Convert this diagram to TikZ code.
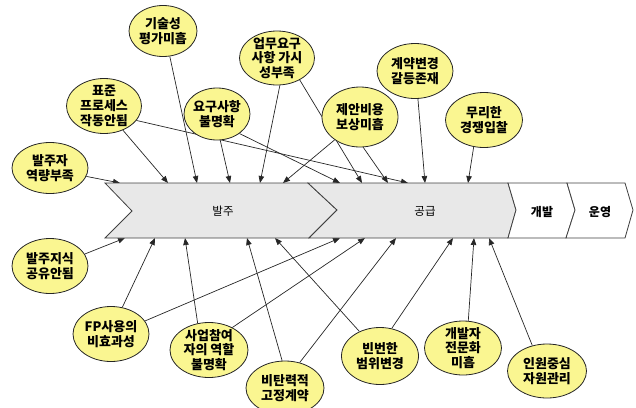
\documentclass[tikz,border=0pt]{standalone}
\usepackage{fontspec}
\setmainfont{Noto Sans CJK KR}
\usetikzlibrary{shapes.geometric,arrows.meta}
\definecolor{causefill}{RGB}{250,246,145}
\definecolor{stagefill}{RGB}{232,232,232}
\pgfdeclarelayer{background}
\pgfsetlayers{background,main}
\begin{document}
\begin{tikzpicture}[x=1pt,y=-1pt,
  cause/.style={ellipse,draw=black!85,line width=0.8pt,fill=causefill,inner sep=0pt},
  causetext/.style={align=center,font=\fontsize{13}{14.8}\selectfont\bfseries,inner sep=0pt},
  link/.style={draw=black!85,line width=0.7pt,-{Triangle[length=7pt,width=5.5pt]}},
  stagebox/.style={draw=black!75,line width=0.8pt,line join=miter},
  stagetext/.style={font=\fontsize{11.5}{13}\selectfont,inner sep=0pt},
  stagebold/.style={font=\fontsize{12}{13}\selectfont\bfseries,inner sep=0pt}]
\useasboundingbox (0,0) rectangle (636,407);

% stages
\draw[stagebox,fill=stagefill] (105,183) -- (308,183) -- (337,210) -- (309,238) -- (105,238) -- (132,211) -- cycle;
\draw[stagebox,fill=stagefill] (308,183) -- (508,183) -- (516,210) -- (508,238) -- (309,238) -- (337,210) -- cycle;
\draw[stagebox,fill=white] (508,183) -- (567,183) -- (575,210) -- (566,238) -- (508,238) -- (516,210) -- cycle;
\draw[stagebox,fill=white] (567,183) -- (625,183) -- (633,210) -- (625,238) -- (566,238) -- (575,210) -- cycle;
\node[stagetext] (s1) at (223,211) {발주};
\node[stagetext] (s2) at (425,211) {공급};
\node[stagebold] (s3) at (542,212) {개발};
\node[stagebold] (s4) at (600,212) {운영};

% arrow targets
\coordinate (t1) at (120,183);
\coordinate (t2) at (168,183);
\coordinate (t3) at (408,183);
\coordinate (t4) at (197,183);
\coordinate (t5) at (230,183);
\coordinate (t6) at (340,183);
\coordinate (t7) at (260,183);
\coordinate (t8) at (362,183);
\coordinate (t9) at (283,183);
\coordinate (t10) at (388,183);
\coordinate (t11) at (425,183);
\coordinate (t12) at (468,183);
\coordinate (u1) at (125,238);
\coordinate (u2) at (155,238);
\coordinate (u3) at (340,238);
\coordinate (u4) at (185,238);
\coordinate (u5) at (365,238);
\coordinate (u6) at (247,238);
\coordinate (u7) at (396,238);
\coordinate (u8) at (275,238);
\coordinate (u9) at (453,238);
\coordinate (u10) at (474,238);
\coordinate (u11) at (489,238);

% causes
\node[cause,minimum width=68pt,minimum height=51pt] (e1) at (163,31) {};
\node[causetext] at (e1) {기술성\\평가미흡};
\node[cause,minimum width=75pt,minimum height=54pt] (e2) at (277,58) {};
\node[causetext] at (e2) {업무요구\\사항 가시\\성부족};
\node[cause,minimum width=75pt,minimum height=55pt] (e3) at (104,106) {};
\node[causetext] at (e3) {표준\\프로세스\\작동안됨};
\node[cause,minimum width=66pt,minimum height=52pt] (e4) at (217,114) {};
\node[causetext] at (e4) {요구사항\\불명확};
\node[cause,minimum width=76pt,minimum height=51pt] (e5) at (50,168) {};
\node[causetext] at (e5) {발주자\\역량부족};
\node[cause,minimum width=76pt,minimum height=55pt] (e6) at (415,71) {};
\node[causetext] at (e6) {계약변경\\갈등존재};
\node[cause,minimum width=76pt,minimum height=60pt] (e7) at (360,117) {};
\node[causetext] at (e7) {제안비용\\보상미흡};
\node[cause,minimum width=77pt,minimum height=55pt] (e8) at (484,120) {};
\node[causetext] at (e8) {무리한\\경쟁입찰};
\node[cause,minimum width=76pt,minimum height=55pt] (e9) at (50,266) {};
\node[causetext] at (e9) {발주지식\\공유안됨};
\node[cause,minimum width=76pt,minimum height=55pt] (e10) at (111,334) {};
\node[causetext] at (e10) {FP사용의\\비효과성};
\node[cause,minimum width=78pt,minimum height=55pt] (e11) at (209,350) {};
\node[causetext] at (e11) {사업참여\\자의 역할\\불명확};
\node[cause,minimum width=78pt,minimum height=54pt] (e12) at (285,388) {};
\node[causetext] at (e12) {비탄력적\\고정계약};
\node[cause,minimum width=77pt,minimum height=57pt] (e13) at (380,356) {};
\node[causetext] at (e13) {빈번한\\범위변경};
\node[cause,minimum width=77pt,minimum height=54pt] (e14) at (463,348) {};
\node[causetext] at (e14) {개발자\\전문화\\미흡};
\node[cause,minimum width=79pt,minimum height=54pt] (e15) at (547,371) {};
\node[causetext] at (e15) {인원중심\\자원관리};

% connectors
\begin{pgfonlayer}{background}
\draw[link] (e5.-13) -- (t1);
\draw[link] (e3.-52) -- (t2);
\draw[link] (e3.-24) -- (t3);
\draw[link] (e1.-75) -- (t4);
\draw[link] (e4.-83) -- (t5);
\draw[link] (e4.-41) -- (t6);
\draw[link] (e2.-84) -- (t7);
\draw[link] (e2.-44) -- (t8);
\draw[link] (e7.-138) -- (t9);
\draw[link] (e7.-84) -- (t10);
\draw[link] (e6.-84) -- (t11);
\draw[link] (e8.-111) -- (t12);
\draw[link] (e9.19) -- (u1);
\draw[link] (e10.67) -- (u2);
\draw[link] (e10.21) -- (u3);
\draw[link] (e11.113) -- (u4);
\draw[link] (e11.44) -- (u5);
\draw[link] (e12.96) -- (u6);
\draw[link] (e12.60) -- (u7);
\draw[link] (e13.130) -- (u8);
\draw[link] (e13.67) -- (u9);
\draw[link] (e14.79) -- (u10);
\draw[link] (e15.120) -- (u11);
\end{pgfonlayer}
\end{tikzpicture}
\end{document}
